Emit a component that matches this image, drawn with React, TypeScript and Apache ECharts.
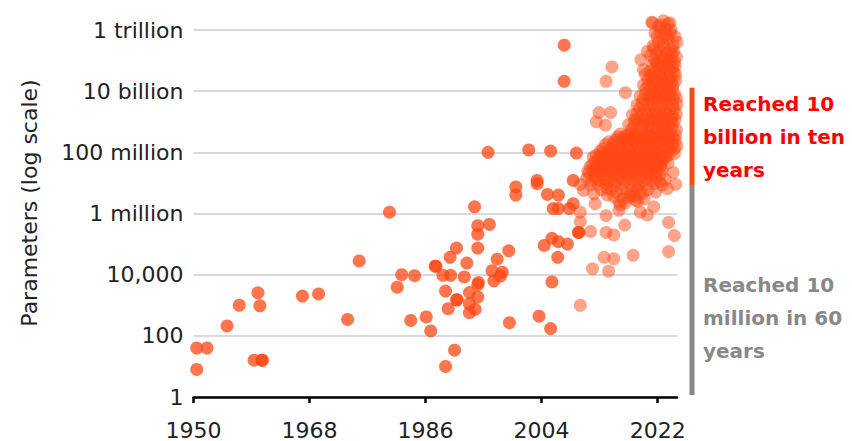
import React, { useEffect, useRef } from "react";
import * as echarts from "echarts";

// ---- tick labels & texts ----
const xTicks = [1950, 1968, 1986, 2004, 2022];
const yTickLabels = ["1", "100", "10,000", "1 million", "100 million", "10 billion", "1 trillion"];
const yAxisTitle = "Parameters (log scale)";
const noteRed = ["Reached 10", "billion in ten", "years"];
const noteGray = ["Reached 10", "million in 60", "years"];
// annotation ranges (parameter values)
const redRange = [8e6, 1.3e10];
const grayRange = [1, 8e6];

// ---- data: [year, parameters] ----
const models1950to1979: [number, number][] = [
  [1950.5, 40], [1952.1, 40], [1950.5, 8], [1955.2, 210], [1957.1, 1000], [1959.4, 16],
  [1960.0, 2550], [1960.3, 960], [1960.6, 16], [1960.7, 16], [1966.9, 2000], [1969.4, 2350],
  [1973.9, 345], [1975.7, 28000],
];

const models1980to1999: [number, number][] = [
  [1980.4, 1.1e6], [1981.6, 3900], [1982.3, 10000], [1983.7, 320], [1984.3, 9300], [1986.1, 415],
  [1986.8, 145], [1987.5, 19000], [1987.6, 19000], [1988.7, 9500], [1989.1, 2900], [1989.1, 10],
  [1989.5, 770], [1989.8, 37000], [1989.9, 9500], [1990.5, 34], [1990.8, 74000], [1990.8, 1500],
  [1990.9, 1500], [1992.0, 8400], [1992.4, 24000], [1992.8, 2600], [1992.8, 1100], [1992.8, 570],
  [1993.6, 1.65e6], [1993.7, 730], [1994.1, 4e5], [1994.1, 2.1e5], [1994.1, 74000], [1994.1, 4700],
  [1994.2, 5500], [1994.1, 1850], [1995.7, 1e8], [1995.9, 4.4e5], [1996.3, 13500], [1996.6, 6300],
  [1997.1, 32000], [1997.6, 8900], [1997.9, 12000], [1998.9, 60000], [1999.0, 270],
];

const models2000to2009: [number, number][] = [
  [2000.0, 7.4e6], [2000.0, 4e6], [2002.0, 1.2e8], [2003.3, 1.2e7], [2003.3, 9.4e6], [2003.6, 440],
  [2004.4, 90000], [2004.9, 4.2e6], [2005.4, 1.1e8], [2005.4, 173], [2005.6, 1.55e5], [2005.6, 5800],
  [2005.8, 1.45e6], [2006.5, 37000], [2006.6, 1.2e5], [2006.6, 4e6], [2006.6, 1.45e6], [2007.5, 3.2e11],
  [2007.5, 2.1e10], [2008.0, 1e5], [2008.3, 1.45e6], [2008.9, 2.1e6], [2008.9, 1.2e7], [2009.4, 9.5e7],
  [2009.7, 2.4e5], [2009.8, 2.4e5],
];

const models2010onSparse: [number, number][] = [
  [2010.0, 1.1e6], [2010.0, 5.4e5], [2010.0, 1000], [2010.5, 5.7e6], [2011.6, 2.6e5], [2011.9, 15600],
  [2012.1, 4.4e6], [2012.3, 2.1e6], [2013.7, 37000], [2014.0, 2.4e5], [2014.0, 8.5e5], [2014.2, 6.5e6],
  [2014.4, 13000], [2015.2, 2e5], [2015.2, 33000], [2016.0, 1.27e6], [2016.2, 1.9e6], [2016.9, 4.2e5],
  [2017.8, 4e6], [2018.2, 43000], [2018.6, 2.7e6], [2019.3, 1.1e6], [2019.3, 5e6], [2020.4, 8.9e5],
  [2021.4, 1.65e6], [2021.7, 5e6], [2023.5, 6.5e6], [2023.7, 5.1e5], [2024.6, 1.9e5], [2023.7, 57000],
  [2023.6, 4.5e7], [2024.4, 2.2e7], [2023.2, 1.3e7], [2024.8, 9e6],
];

const models2010onUpper: [number, number][] = [
  [2012.5, 1e9], [2012.9, 2e9], [2013.9, 7.7e8], [2014.7, 2e9], [2014.0, 2.1e10], [2014.9, 6.2e10],
  [2017.0, 8.9e9], [2019.4, 1.07e11], [2019.8, 5e10], [2020.4, 2e11], [2021.2, 1.7e12], [2023.9, 1.7e12],
  [2022.4, 1.45e12], [2023.2, 1.15e12],
];

const clusterTop: [number, number][] = [
  [2021.1, 1.8e12], [2022.1, 1.3e12], [2022.9, 2e12], [2023.6, 1.6e12],
  [2021.6, 8e11], [2022.4, 9e11], [2023.3, 7e11], [2024.1, 1e12], [2024.7, 6e11],
  [2021.3, 3e11], [2022.1, 4e11], [2022.9, 3.5e11], [2023.6, 5e11], [2024.4, 3e11], [2025.0, 4e11],
  [2020.9, 1.5e11], [2021.8, 1.7e11], [2022.6, 1.4e11], [2023.4, 1.8e11], [2024.2, 1.6e11], [2024.9, 1.3e11],
  [2021.5, 1.07e11], [2022.6, 1e11], [2023.6, 1.1e11], [2024.6, 9e10],
  [2021.2, 7e10], [2022.0, 8e10], [2022.7, 6.5e10], [2023.5, 7.5e10], [2024.3, 6e10],
  [2021.9, 6e11], [2022.8, 5.5e11], [2023.9, 7.5e11], [2024.5, 2e11], [2021.4, 2.5e11], [2022.3, 2.2e11],
  [2023.1, 2.8e11], [2024.0, 2.3e11], [2021.9, 9e10], [2022.9, 1.2e11], [2023.9, 8.5e10], [2024.7, 6.8e10],
  [2021.7, 5.5e10], [2022.4, 4.5e10], [2023.0, 5.2e10], [2023.9, 4.6e10], [2024.5, 4e10],
];

const clusterUpper: [number, number][] = [
  [2020.1, 3.5e10], [2020.9, 3e10], [2021.7, 4e10], [2022.4, 3.3e10], [2023.2, 3.8e10], [2024.0, 3e10], [2024.8, 3.5e10],
  [2020.5, 2.4e10], [2021.6, 2.3e10], [2022.7, 2.5e10], [2023.8, 2.4e10], [2024.8, 2.2e10],
  [2020.8, 4.4e10], [2021.2, 2.7e10], [2022.1, 2e10], [2023.0, 2.1e10], [2024.1, 1.9e10],
  [2019.8, 1.6e10], [2020.6, 1.5e10], [2021.3, 1.8e10], [2022.1, 1.4e10], [2022.9, 1.7e10], [2023.6, 1.5e10], [2024.4, 1.6e10],
  [2020.2, 1.2e10], [2021.0, 1.1e10], [2021.9, 1e10], [2022.6, 1.15e10], [2023.4, 1.05e10], [2024.3, 1.2e10],
  [2019.3, 7e9], [2020.1, 8e9], [2020.9, 7.5e9], [2021.7, 6.5e9], [2022.4, 8e9], [2023.2, 7e9], [2024.0, 7.5e9], [2024.9, 6e9],
  [2020.6, 6e9], [2021.4, 8.8e9], [2022.9, 6.2e9], [2023.7, 9e9], [2024.6, 8.2e9],
  [2019.8, 5.4e9], [2021.0, 5.2e9], [2022.1, 5.5e9], [2023.3, 5.3e9], [2024.4, 5.6e9],
  [2018.8, 3.5e9], [2019.6, 4e9], [2020.4, 3.5e9], [2021.2, 3.8e9], [2022.0, 3.2e9], [2022.7, 4e9], [2023.5, 3.6e9], [2024.3, 3.3e9], [2025.0, 3.8e9],
  [2019.2, 2.7e9], [2020.0, 2.4e9], [2020.9, 2.8e9], [2021.6, 2.2e9], [2022.4, 2.6e9], [2023.1, 2.3e9], [2023.9, 2.5e9], [2024.6, 2.7e9],
  [2018.1, 1.7e9], [2018.8, 1.8e9], [2019.6, 1.6e9], [2020.4, 1.9e9], [2021.2, 1.5e9], [2022.0, 1.8e9], [2022.7, 1.6e9], [2023.5, 1.7e9], [2024.3, 1.5e9], [2024.9, 1.8e9],
  [2018.7, 1.2e9], [2020.0, 1.25e9], [2021.2, 1.15e9], [2022.4, 1.2e9], [2023.6, 1.3e9], [2024.7, 1.2e9],
  [2018.4, 1.1e9], [2019.3, 1.05e9], [2020.7, 1.1e9], [2021.8, 1.3e9], [2023.0, 1.1e9], [2024.1, 1.05e9],
  [2017.5, 8e8], [2018.3, 7e8], [2019.0, 8.5e8], [2019.8, 7.5e8], [2020.6, 8e8], [2021.3, 9e8], [2022.1, 7e8], [2022.9, 8e8], [2023.6, 7.5e8], [2024.4, 8.5e8],
  [2017.9, 5.5e8], [2019.4, 6e8], [2020.3, 5.7e8], [2021.0, 6.3e8], [2021.9, 5.5e8], [2022.6, 6.2e8], [2023.3, 5.8e8], [2024.2, 6.5e8], [2024.9, 5.5e8],
];

const clusterCore: [number, number][] = [
  [2016.2, 4e8], [2017.0, 3.5e8], [2017.8, 4e8], [2018.5, 3.8e8], [2019.3, 3.6e8], [2020.1, 4e8], [2020.9, 3.5e8], [2021.7, 4.2e8], [2022.4, 3.6e8], [2023.2, 4e8], [2024.0, 3.7e8], [2024.8, 3.5e8],
  [2015.8, 3.2e8], [2016.6, 3e8], [2017.4, 3.3e8], [2018.2, 3.1e8], [2019.0, 3.2e8], [2019.7, 3e8], [2020.5, 3.3e8], [2021.2, 3.2e8], [2022.0, 3e8], [2022.9, 3.1e8], [2023.6, 3.2e8], [2024.4, 3e8],
  [2015.5, 2.6e8], [2016.8, 2.8e8], [2018.0, 2.7e8], [2019.2, 2.5e8], [2020.4, 2.9e8], [2021.5, 2.7e8], [2022.6, 2.6e8], [2023.8, 2.8e8],
  [2014.4, 2.2e8], [2015.2, 2.1e8], [2016.4, 2.3e8], [2017.5, 2.2e8], [2018.3, 2.1e8], [2019.1, 2.2e8], [2020.0, 2.3e8], [2020.9, 2.2e8], [2022.0, 2.1e8], [2023.0, 2.3e8], [2024.0, 2.2e8], [2024.7, 2.4e8],
  [2013.9, 1.8e8], [2015.0, 1.7e8], [2015.9, 1.9e8], [2016.9, 1.8e8], [2017.8, 1.7e8], [2018.7, 1.9e8], [2019.6, 1.8e8], [2020.6, 1.7e8], [2021.5, 1.9e8], [2022.4, 1.8e8], [2023.4, 1.7e8], [2024.3, 1.9e8], [2025.0, 1.6e8],
  [2013.5, 1.3e8], [2014.8, 1.25e8], [2016.0, 1.35e8], [2017.3, 1.3e8], [2018.5, 1.2e8], [2019.8, 1.4e8], [2021.0, 1.3e8], [2022.2, 1.25e8], [2023.5, 1.35e8], [2024.6, 1.3e8],
  [2013.1, 1.1e8], [2014.2, 1.05e8], [2015.5, 1.1e8], [2016.6, 1.05e8], [2017.7, 1.15e8], [2019.0, 1.05e8], [2020.3, 1.1e8], [2021.5, 1.05e8], [2022.8, 1.1e8], [2024.0, 1.15e8],
  [2012.5, 8e7], [2013.4, 9e7], [2014.4, 8.5e7], [2015.3, 8e7], [2016.2, 9e7], [2017.2, 8.5e7], [2018.1, 8e7], [2019.0, 9e7], [2020.0, 8.5e7], [2020.9, 8e7], [2021.8, 9e7], [2022.7, 8.5e7], [2023.6, 8e7], [2024.6, 9e7],
  [2012.0, 7e7], [2013.0, 7.2e7], [2014.0, 7.4e7], [2015.0, 7e7], [2015.9, 7.3e7], [2016.9, 7e7], [2017.7, 7.1e7], [2018.6, 7.4e7], [2019.6, 7e7], [2020.6, 7.2e7], [2021.3, 7e7], [2022.3, 7.3e7], [2023.2, 7e7],
  [2012.8, 6e7], [2014.0, 6.2e7], [2015.2, 5.8e7], [2016.5, 6e7], [2017.8, 6.3e7], [2019.1, 5.9e7], [2020.4, 6e7], [2021.6, 6.1e7], [2022.9, 5.8e7],
  [2012.3, 5e7], [2013.2, 5.2e7], [2014.3, 4.9e7], [2015.2, 5.1e7], [2016.1, 5e7], [2017.0, 5.2e7], [2017.9, 4.9e7], [2018.9, 5.1e7], [2019.8, 5e7], [2020.7, 5.2e7], [2021.7, 4.9e7], [2022.6, 5.1e7],
  [2011.9, 4e7], [2012.8, 4.2e7], [2013.8, 3.8e7], [2014.7, 4e7], [2015.6, 4.2e7], [2016.5, 3.8e7], [2017.5, 4e7], [2018.4, 4.2e7], [2019.3, 3.8e7], [2020.3, 4e7], [2021.2, 4.2e7], [2022.1, 3.8e7],
  [2011.5, 3.4e7], [2012.5, 3.5e7], [2013.3, 3.3e7], [2014.2, 3.4e7], [2015.1, 3.5e7], [2016.0, 3.3e7], [2017.0, 3.4e7], [2017.9, 3.5e7], [2018.6, 3.3e7], [2019.6, 3.4e7], [2020.5, 3.5e7], [2021.6, 3.3e7], [2022.4, 3.4e7],
  [2012.2, 2.9e7], [2013.5, 3e7], [2014.8, 2.8e7], [2016.1, 2.9e7], [2017.4, 3e7], [2018.8, 2.8e7], [2020.1, 2.9e7], [2021.4, 3e7], [2022.7, 2.8e7],
  [2011.2, 2.4e7], [2012.0, 2.3e7], [2012.9, 2.5e7], [2013.8, 2.4e7], [2014.6, 2.3e7], [2015.6, 2.5e7], [2016.4, 2.4e7], [2017.2, 2.3e7], [2018.3, 2.5e7], [2019.2, 2.4e7], [2020.3, 2.3e7], [2021.0, 2.5e7], [2021.9, 2.4e7],
  [2011.3, 2e7], [2012.2, 1.8e7], [2013.1, 2e7], [2014.0, 1.9e7], [2015.0, 2e7], [2015.9, 1.8e7], [2016.8, 2e7], [2017.8, 1.9e7], [2018.7, 2e7], [2019.6, 1.8e7], [2020.6, 2e7], [2021.5, 1.9e7], [2022.4, 2e7],
  [2011.0, 1.4e7], [2012.4, 1.45e7], [2013.7, 1.35e7], [2015.0, 1.4e7], [2016.3, 1.45e7], [2017.6, 1.4e7], [2019.0, 1.35e7], [2020.3, 1.4e7], [2021.7, 1.45e7],
  [2011.8, 1.15e7], [2013.0, 1.2e7], [2014.4, 1.1e7], [2015.7, 1.15e7], [2017.0, 1.2e7], [2018.3, 1.1e7], [2019.6, 1.15e7], [2021.0, 1.2e7], [2022.3, 1.1e7],
  [2010.0, 9e6], [2011.6, 8.5e6], [2012.8, 9e6], [2014.0, 9.5e6], [2015.3, 8.5e6], [2016.5, 9e6], [2017.8, 9.5e6], [2019.0, 8.5e6], [2020.3, 9e6], [2021.5, 9.5e6], [2022.7, 8.5e6],
];

const clusterBase: [number, number][] = [
  [2014.2, 4e6], [2014.8, 6e6], [2015.2, 3.5e6], [2015.6, 5e6], [2016.0, 2.4e6], [2016.4, 6.2e6],
  [2016.6, 3e6], [2017.0, 2.2e6], [2017.2, 4.8e6], [2017.6, 3.4e6], [2018.0, 5.5e6], [2018.4, 3.8e6],
  [2018.8, 6e6], [2018.9, 2.5e6], [2019.7, 4.5e6], [2019.9, 3e6], [2020.5, 6e6], [2013.3, 6e6],
];

const FONT = "DejaVu Sans";
const POINT = "#ff4713";

export default function App() {
  const ref = useRef<HTMLDivElement>(null);
  useEffect(() => {
    if (!ref.current) return;
    const chart = echarts.init(ref.current, undefined, { renderer: "svg" });
    const early = [...models1950to1979, ...models1980to1999, ...models2000to2009];
    const recent = [
      ...models2010onSparse, ...models2010onUpper, ...clusterTop, ...clusterUpper, ...clusterCore, ...clusterBase,
    ];
    chart.setOption({
      animation: false,
      grid: { left: 193.5, right: 175, top: 30, bottom: 41 },
      xAxis: {
        type: "value",
        min: 1950,
        max: 2025,
        interval: 18,
        axisLine: { show: true, lineStyle: { color: "#000", width: 2.5 } },
        axisTick: { show: true, length: 6, lineStyle: { color: "#000", width: 2.5 }, customValues: xTicks },
        axisLabel: {
          customValues: xTicks,
          margin: 22,
          color: "#222",
          fontFamily: FONT,
          fontSize: 22,
          formatter: (v: number) => String(v),
        },
        splitLine: { show: false },
      },
      yAxis: {
        type: "log",
        logBase: 100,
        min: 1,
        max: 1e12,
        axisLine: { show: false },
        axisTick: { show: false },
        axisLabel: {
          margin: 10,
          color: "#222",
          fontFamily: FONT,
          fontSize: 22,
          formatter: (v: number) => yTickLabels[Math.round(Math.log10(v) / 2)] ?? "",
        },
        splitLine: { show: true, lineStyle: { color: "#d8d8e0", width: 2 } },
      },
      series: [
        {
          name: "Before 2010",
          type: "scatter",
          clip: false,
          symbol: "circle",
          symbolSize: 13,
          data: early,
          itemStyle: { color: POINT, opacity: 0.75 },
        },
        {
          name: "2010 onward",
          type: "scatter",
          clip: false,
          symbol: "circle",
          symbolSize: 13,
          data: recent,
          itemStyle: { color: POINT, opacity: 0.5 },
        },
      ],
    });

    const finder = { xAxisIndex: 0, yAxisIndex: 0 };
    const xEnd = (chart.convertToPixel(finder as any, [2025, 1]) as number[])[0];
    const py = (v: number) => (chart.convertToPixel(finder as any, [2025, v]) as number[])[1];
    const barX = xEnd + 12.5;
    const textX = barX + 13.5;
    const redTop = py(redRange[1]);
    const redBottom = py(redRange[0]);
    const grayTop = py(grayRange[1]);
    const grayBottom = py(grayRange[0]) - 2;

    chart.setOption({
      graphic: [
        {
          type: "text",
          x: 29,
          y: 203,
          rotation: Math.PI / 2,
          style: {
            text: yAxisTitle,
            fill: "#222",
            font: `22px "${FONT}"`,
            align: "center",
            verticalAlign: "middle",
          },
        },
        {
          type: "rect",
          shape: { x: barX, y: redTop, width: 5, height: redBottom - redTop },
          style: { fill: "#ff4713" },
        },
        {
          type: "rect",
          shape: { x: barX, y: grayTop, width: 5, height: grayBottom - grayTop },
          style: { fill: "#888888" },
        },
        {
          type: "text",
          x: textX,
          y: redTop,
          style: {
            text: noteRed.join("\n"),
            fill: "#ff0000",
            font: `bold 20px "${FONT}"`,
            lineHeight: 33,
            align: "left",
            verticalAlign: "top",
          },
        },
        {
          type: "text",
          x: textX,
          y: 268,
          style: {
            text: noteGray.join("\n"),
            fill: "#888888",
            font: `bold 20px "${FONT}"`,
            lineHeight: 33,
            align: "left",
            verticalAlign: "top",
          },
        },
      ],
    });
    return () => chart.dispose();
  }, []);
  return (
    <div
      ref={ref}
      style={{ position: "absolute", left: 0, top: 0, width: 852, height: 441 }}
    />
  );
}
